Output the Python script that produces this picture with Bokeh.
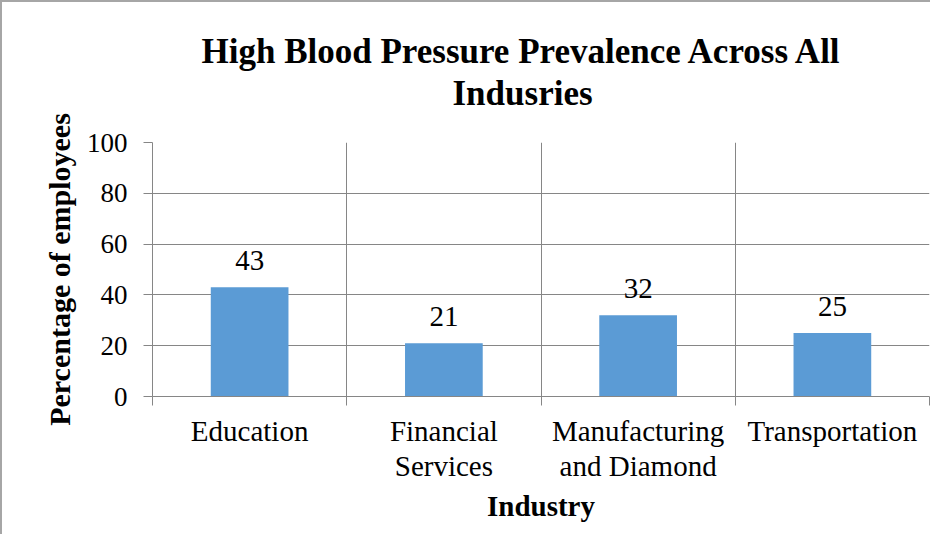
from bokeh.plotting import figure
from bokeh.models import FixedTicker, Title, ColumnDataSource, Range1d
from bokeh.core.properties import value
from bokeh.embed import file_html
from bokeh.resources import INLINE

categories = ["Education", "Financial Services", "Manufacturing and Diamond", "Transportation"]
tick_labels = ["Education", "Financial\nServices", "Manufacturing\nand Diamond", "Transportation"]
values = [43, 21, 32, 25]
y_ticks = [0, 20, 40, 60, 80, 100]

FONT = "Liberation Serif"
GRID = "#868686"

xs = [i + 0.5 for i in range(len(categories))]
source = ColumnDataSource(dict(x=xs, top=values, label=[str(v) for v in values]))

p = figure(width=930, height=534,
           x_range=Range1d(0, len(categories)), y_range=Range1d(0, 100),
           output_backend="svg", toolbar_location=None,
           min_border_left=150, min_border_right=3,
           min_border_top=140, min_border_bottom=140)

p.background_fill_color = "white"
p.border_fill_color = "white"
p.outline_line_color = None

# Titles: p.title is outermost; added titles stack outward from the plot
p.title.text = "High Blood Pressure Prevalence Across All"
p.title.align = "left"
p.title.offset = 49
p.title.standoff = 1
p.title.text_font = FONT
p.title.text_font_size = "35px"
p.title.text_font_style = "bold"
p.title.text_color = "black"

spacer = Title(text=" ", standoff=0, text_font=FONT, text_font_size="25px")
p.add_layout(spacer, "above")
t2 = Title(text="Indusries", align="left", offset=300, standoff=1,
           text_font=FONT, text_font_size="35px", text_font_style="bold", text_color="black")
p.add_layout(t2, "above")

# Bars
p.vbar(x="x", top="top", width=0.4, source=source, fill_color="#5B9BD5", line_color=None)
p.text(x="x", y="top", text="label", source=source, text_align="center",
       text_baseline="alphabetic", y_offset=-27, text_font=value(FONT),
       text_font_size="29px", text_color="black")

# Grids
p.xgrid.ticker = FixedTicker(ticks=list(range(len(categories) + 1)))
p.ygrid.ticker = FixedTicker(ticks=y_ticks)
for g in (p.xgrid, p.ygrid):
    g.grid_line_color = GRID
    g.grid_line_alpha = 1.0
    g.grid_line_width = 1

# X axis
xa = p.xaxis[0]
xa.ticker = FixedTicker(ticks=xs, minor_ticks=list(range(len(categories) + 1)))
xa.major_label_overrides = {x: lab for x, lab in zip(xs, tick_labels)}
xa.major_tick_line_color = None
xa.major_tick_out = 9
xa.major_tick_in = 0
xa.minor_tick_out = 9
xa.minor_tick_in = 0
xa.minor_tick_line_color = GRID
xa.axis_line_color = GRID
xa.major_label_standoff = 9
xa.major_label_text_font = FONT
xa.major_label_text_font_size = "29px"
xa.major_label_text_line_height = 1.12
xa.major_label_text_color = "black"
xa.axis_label = "Industry"
xa.axis_label_text_font = FONT
xa.axis_label_text_font_size = "29px"
xa.axis_label_text_font_style = "bold"
xa.axis_label_text_color = "black"
xa.axis_label_standoff = 5

# Y axis
ya = p.yaxis[0]
ya.ticker = FixedTicker(ticks=y_ticks)
ya.major_tick_out = 9
ya.major_tick_in = 0
ya.major_tick_line_color = GRID
ya.minor_tick_line_color = None
ya.axis_line_color = GRID
ya.major_label_standoff = 16
ya.major_label_text_font = FONT
ya.major_label_text_font_size = "27px"
ya.major_label_text_color = "black"
ya.axis_label = "Percentage of employees"
ya.axis_label_text_font = FONT
ya.axis_label_text_font_size = "30px"
ya.axis_label_text_font_style = "bold"
ya.axis_label_text_color = "black"
ya.axis_label_standoff = 8

p.styles = {"border-left": "2px solid #a6a6a6", "border-top": "2px solid #a6a6a6",
            "box-sizing": "border-box"}

open("out.html", "w").write(file_html(p, INLINE))
